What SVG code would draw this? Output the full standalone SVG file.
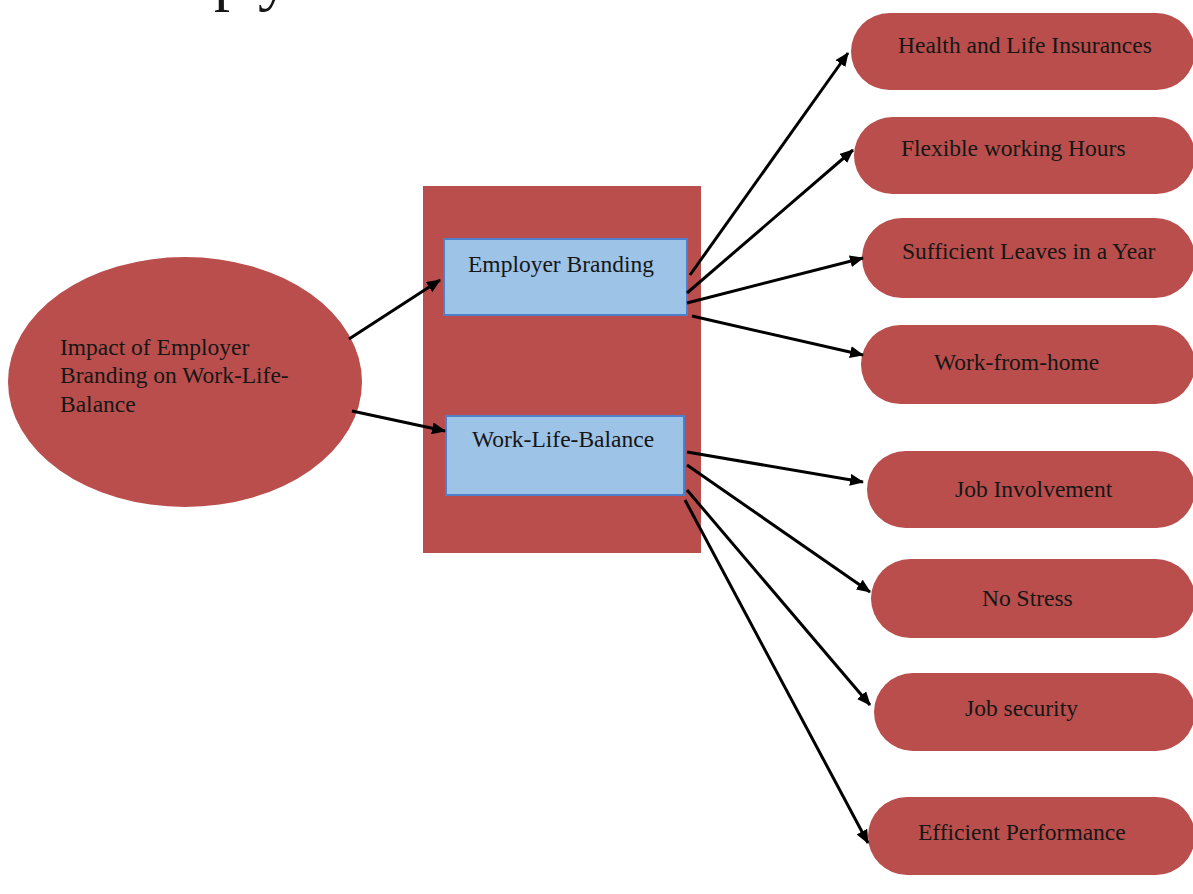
<svg xmlns="http://www.w3.org/2000/svg" width="1193" height="894" viewBox="0 0 1193 894">
<style>
.red{fill:#B94E4C;}
.box{fill:#9DC3E6;stroke:#4F7FCB;stroke-width:2;}
.t{font-family:"Liberation Serif","Times New Roman",serif;font-size:23.5px;fill:#161616;}
.c{stroke:#000;stroke-width:3;fill:none;marker-end:url(#ah);}
</style>
<defs>
<marker id="ah" markerUnits="userSpaceOnUse" markerWidth="14" markerHeight="12" refX="13" refY="6" orient="auto">
<path d="M0,0 L14,6 L0,12 Z" fill="#000"/>
</marker>
</defs>
<rect width="1193" height="894" fill="#fff"/>
<g id="fragment">
<text class="t" x="214" y="-2" style="font-size:64px">p</text>
<text class="t" x="258" y="-2" style="font-size:64px">y</text>
</g>
<g id="container"><rect class="red" x="423" y="186" width="278" height="367"/></g>
<g id="impact">
<ellipse class="red" cx="185" cy="382" rx="177" ry="125"/>
<text class="t" x="60" y="355">Impact of Employer</text>
<text class="t" x="60" y="383">Branding on Work-Life-</text>
<text class="t" x="60" y="412">Balance</text>
</g>
<g id="employer-branding">
<rect class="box" x="444" y="239" width="243" height="76"/>
<text class="t" x="468" y="272">Employer Branding</text>
</g>
<g id="work-life-balance">
<rect class="box" x="446" y="416" width="238" height="79"/>
<text class="t" x="472" y="447">Work-Life-Balance</text>
</g>
<g id="health"><rect class="red" x="851" y="13" width="344" height="77" rx="38.5"/><text class="t" x="898" y="53">Health and Life Insurances</text></g>
<g id="flexible"><rect class="red" x="854" y="117" width="341" height="77" rx="38.5"/><text class="t" x="901" y="156">Flexible working Hours</text></g>
<g id="leaves"><rect class="red" x="862" y="218" width="333" height="80" rx="40"/><text class="t" x="902" y="259">Sufficient Leaves in a Year</text></g>
<g id="wfh"><rect class="red" x="861" y="325" width="334" height="79" rx="39.5"/><text class="t" x="934" y="370">Work-from-home</text></g>
<g id="job-involvement"><rect class="red" x="867" y="451" width="328" height="77" rx="38.5"/><text class="t" x="955" y="497">Job Involvement</text></g>
<g id="no-stress"><rect class="red" x="871" y="559" width="324" height="79" rx="39.5"/><text class="t" x="982" y="606">No Stress</text></g>
<g id="job-security"><rect class="red" x="874" y="673" width="321" height="78" rx="39"/><text class="t" x="965" y="716">Job security</text></g>
<g id="efficient"><rect class="red" x="868" y="797" width="327" height="78" rx="39"/><text class="t" x="918" y="840">Efficient Performance</text></g>
<g id="connectors">
<line class="c" x1="349" y1="339" x2="440" y2="280"/>
<line class="c" x1="352" y1="411" x2="445" y2="431"/>
<line class="c" x1="690" y1="275" x2="848" y2="53"/>
<line class="c" x1="687" y1="293" x2="853" y2="150"/>
<line class="c" x1="687" y1="303" x2="863" y2="258"/>
<line class="c" x1="692" y1="316" x2="863" y2="355"/>
<line class="c" x1="687" y1="452" x2="863" y2="482"/>
<line class="c" x1="687" y1="465" x2="870" y2="592"/>
<line class="c" x1="687" y1="490" x2="870" y2="705"/>
<line class="c" x1="685" y1="500" x2="868" y2="843"/>
</g>
</svg>
